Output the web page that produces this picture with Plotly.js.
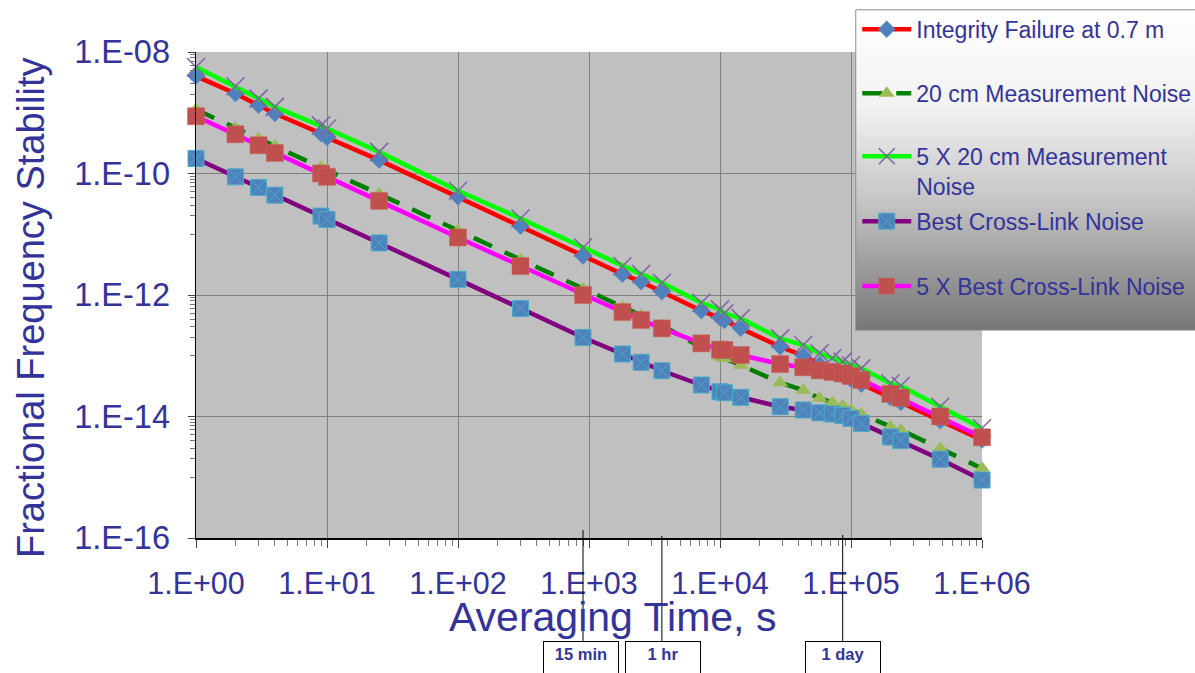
<!DOCTYPE html>
<html>
<head>
<meta charset="utf-8">
<script src="https://cdn.plot.ly/plotly-3.0.1.min.js"></script>
<style>
html,body{margin:0;padding:0;background:#fff;}
#chart{width:1195px;height:673px;}
</style>
</head>
<body>
<div id="chart"></div>
<script>
// ---- data ----
const tau = [1, 2, 3, 4, 9, 10, 25, 100, 300, 900, 1800, 2500, 3600, 7200, 10000, 10800, 14400,
             28800, 43200, 57600, 72000, 86400, 100000, 120000, 200000, 240000, 480000, 1000000];

const integrity = [4.0e-9, 2.07e-9, 1.33e-9, 9.7e-10, 4.55e-10, 3.9e-10, 1.66e-10, 4.12e-11, 1.36e-11,
                   4.37e-12, 2.2e-12, 1.65e-12, 1.13e-12, 5.5e-13, 4.2e-13, 3.8e-13, 2.82e-13,
                   1.41e-13, 1.0e-13, 7.2e-14, 5.7e-14, 4.7e-14, 4.1e-14, 3.4e-14, 2.05e-14, 1.7e-14,
                   8.5e-15, 4.1e-15];

const meas20 = [1.13e-9, 5.6e-10, 3.8e-10, 2.85e-10, 1.27e-10, 1.13e-10, 4.6e-11, 1.14e-11, 3.8e-12,
                1.26e-12, 6.3e-13, 4.6e-13, 3.2e-13, 1.35e-13, 9.5e-14, 9.0e-14, 7.0e-14,
                3.6e-14, 2.7e-14, 2.0e-14, 1.7e-14, 1.5e-14, 1.3e-14, 1.1e-14, 6.8e-15, 6.0e-15,
                3.0e-15, 1.4e-15];

const meas20x5 = [5.67e-9, 2.73e-9, 1.71e-9, 1.25e-9, 6.2e-10, 5.5e-10, 2.27e-10, 5.2e-11, 1.82e-11,
                  6.07e-12, 2.98e-12, 2.21e-12, 1.59e-12, 7.45e-13, 5.8e-13, 4.98e-13, 4.12e-13,
                  1.93e-13, 1.5e-13, 1.1e-13, 9.1e-14, 8.0e-14, 7.0e-14, 6.2e-14, 3.5e-14, 3.2e-14,
                  1.45e-14, 6.4e-15];

const bestLink = [1.77e-10, 8.8e-11, 5.9e-11, 4.4e-11, 1.99e-11, 1.75e-11, 7.2e-12, 1.81e-12, 6.0e-13,
                  2.0e-13, 1.07e-13, 7.8e-14, 5.66e-14, 3.3e-14, 2.56e-14, 2.46e-14, 2.07e-14,
                  1.45e-14, 1.28e-14, 1.15e-14, 1.1e-14, 1.04e-14, 9.3e-15, 7.7e-15, 4.6e-15, 4.0e-15,
                  1.98e-15, 9.0e-16];

const bestLinkx5 = [8.75e-10, 4.42e-10, 2.92e-10, 2.18e-10, 1.0e-10, 8.8e-11, 3.54e-11, 8.85e-12, 2.99e-12,
                    1.0e-12, 5.24e-13, 3.87e-13, 2.82e-13, 1.6e-13, 1.26e-13, 1.24e-13, 1.03e-13,
                    7.3e-14, 6.45e-14, 5.75e-14, 5.4e-14, 5.1e-14, 4.63e-14, 4.0e-14, 2.36e-14, 2.03e-14,
                    1.0e-14, 4.55e-15];

const seriesNames = ['Integrity Failure at 0.7 m', '20 cm Measurement Noise',
                     '5 X 20 cm Measurement<br>Noise', 'Best Cross-Link Noise', '5 X Best Cross-Link Noise'];

const xTickVals = [1, 10, 100, 1000, 10000, 100000, 1000000];
const xTickText = ['1.E+00', '1.E+01', '1.E+02', '1.E+03', '1.E+04', '1.E+05', '1.E+06'];
const yTickVals = [1e-8, 1e-10, 1e-12, 1e-14, 1e-16];
const yTickText = ['1.E-08', '1.E-10', '1.E-12', '1.E-14', '1.E-16'];

const xTitle = 'Averaging Time, s';
const yTitle = 'Fractional Frequency Stability';

const markTimes = [900, 3600, 86400];
const markLabels = ['15 min', '1 hr', '1 day'];

// ---- styling ----
const TXT = '#333399';
const FONT = 'Liberation Sans, Arial, sans-serif';

// minor ticks
const xMinor = [];
for (let e = 0; e < 6; e++) for (let k = 2; k <= 9; k++) xMinor.push(k * Math.pow(10, e));
const yMinor = [];
[-9, -11, -13, -15].forEach(e => { for (let k = 1; k <= 9; k++) yMinor.push(k * Math.pow(10, e)); });

const traces = [
  {x: tau, y: integrity, name: seriesNames[0], mode: 'lines+markers', legend: 'legend',
   line: {color: '#FF0000', width: 4.5},
   marker: {symbol: 'diamond', size: 13, color: '#4F81BD', line: {color: '#5b8ccc', width: 0.5}}},
  {x: tau, y: meas20, name: seriesNames[1], mode: 'lines+markers', legend: 'legend2',
   line: {color: '#008000', width: 4.5, dash: '20px,14px'},
   marker: {symbol: 'triangle-up', size: 14, color: '#9BBB59'}},
  {x: tau, y: meas20x5, name: seriesNames[2], mode: 'lines+markers', legend: 'legend3',
   line: {color: '#00FF00', width: 4.5},
   marker: {symbol: 'x-thin', size: 18, color: '#8064A2', line: {color: '#8064A2', width: 1.5}}},
  {x: tau, y: bestLink, name: seriesNames[3], mode: 'lines+markers', legend: 'legend4',
   line: {color: '#800080', width: 4.5},
   marker: {symbol: 'square-x', size: 16, color: '#4F81BD', line: {color: '#4BACC6', width: 1}}},
  {x: tau, y: bestLinkx5, name: seriesNames[4], mode: 'lines+markers', legend: 'legend5',
   line: {color: '#FF00FF', width: 4.5},
   marker: {symbol: 'square', size: 17, color: '#C0504D', line: {color: '#c96461', width: 0.5}}}
];
traces.forEach(t => { t.cliponaxis = false; });

// geometry helpers (pixel -> paper)
const L = 196, R = 981.7, T = 51.7, B = 538, W = 1195, H = 673;
const px = v => (v - L) / (R - L);
const py = v => (B - v) / (B - T);

const legendRows = [29, 93, 171, 221, 286];
const legendBase = {
  xref: 'paper', yref: 'paper', x: px(857), xanchor: 'left', yanchor: 'middle',
  bgcolor: 'rgba(0,0,0,0)', borderwidth: 0, itemwidth: 49,
  font: {family: FONT, size: 23, color: TXT}, valign: 'top'
};
const legendKeys = ['legend', 'legend2', 'legend3', 'legend4', 'legend5'];

const gradSvg = "<svg xmlns='http://www.w3.org/2000/svg' width='340' height='320' preserveAspectRatio='none'>" +
  "<defs><linearGradient id='g' x1='0' y1='0' x2='0' y2='1'>" +
  "<stop offset='0' stop-color='#ffffff'/><stop offset='0.3' stop-color='#f2f2f2'/>" +
  "<stop offset='0.6' stop-color='#c4c4c4'/><stop offset='1' stop-color='#767676'/>" +
  "</linearGradient></defs><rect width='340' height='320' fill='url(#g)'/></svg>";
const gradUri = 'data:image/svg+xml;charset=utf-8,' + encodeURIComponent(gradSvg);

const shapes = [
  // legend frame
  {type: 'rect', xref: 'paper', yref: 'paper', x0: px(855.5), x1: px(1200), y0: py(330), y1: py(9.5),
   line: {color: '#8c8c8c', width: 1}, fillcolor: 'rgba(0,0,0,0)', layer: 'above'}
];
const annotations = [
  {text: xTitle, xref: 'paper', yref: 'paper', x: px(612), y: py(617),
   xanchor: 'center', yanchor: 'middle', showarrow: false,
   font: {family: FONT, size: 41, color: TXT}},
  {text: yTitle, xref: 'paper', yref: 'paper', x: px(31), y: py(307), textangle: -90,
   xanchor: 'center', yanchor: 'middle', showarrow: false,
   font: {family: FONT, size: 38, color: TXT}}
];
const lineTop = [530, 536, 535];
const boxShift = [-2, 1, 0.7];
markTimes.forEach((t, i) => {
  shapes.push({type: 'line', xref: 'x', yref: 'paper', x0: t, x1: t, y0: py(lineTop[i]), y1: py(641),
               line: {color: '#000', width: 1}, layer: 'above'});
  annotations.push({text: '<b>' + markLabels[i] + '</b>', xref: 'x', yref: 'paper',
                    x: Math.log10(t), xshift: boxShift[i], y: py(641), xanchor: 'center', yanchor: 'top',
                    showarrow: false, width: 68, height: 44, valign: 'top', align: 'center',
                    bordercolor: '#000', borderwidth: 1, borderpad: 3, bgcolor: '#ffffff',
                    font: {family: FONT, size: 16.5, color: TXT}});
});

const layout = {
  width: W, height: H,
  margin: {l: L, r: W - R, t: T, b: H - B, pad: 0, autoexpand: false},
  paper_bgcolor: '#ffffff',
  plot_bgcolor: '#C0C0C0',
  font: {family: FONT, color: TXT},
  xaxis: {
    type: 'log', range: [0, 6], tickmode: 'array', tickvals: xTickVals, ticktext: xTickText,
    tickfont: {family: FONT, size: 30.5, color: TXT}, ticks: 'outside', ticklen: 8, tickcolor: '#444',
    ticklabelstandoff: 10, automargin: false,
    showline: true, linecolor: '#000', linewidth: 1.5, showgrid: true, gridcolor: '#808080', gridwidth: 1,
    zeroline: false,
    minor: {tickmode: 'array', tickvals: xMinor, ticks: 'outside', ticklen: 6, tickcolor: '#777', showgrid: false}
  },
  yaxis: {
    type: 'log', range: [-16, -8], tickmode: 'array', tickvals: yTickVals, ticktext: yTickText,
    tickfont: {family: FONT, size: 32.5, color: TXT}, ticks: 'outside', ticklen: 7, tickcolor: '#444',
    ticklabelstandoff: 11, automargin: false,
    showline: true, linecolor: '#000', linewidth: 1.5, showgrid: true, gridcolor: '#808080', gridwidth: 1,
    zeroline: false,
    minor: {tickmode: 'array', tickvals: yMinor, ticks: 'outside', ticklen: 5, tickcolor: '#777', showgrid: false}
  },
  images: [{source: gradUri, xref: 'paper', yref: 'paper', x: px(855.5), y: py(9.5),
            sizex: px(1200) - px(855.5), sizey: py(9.5) - py(330), xanchor: 'left', yanchor: 'top',
            sizing: 'stretch', layer: 'above'}],
  shapes: shapes,
  annotations: annotations,
  showlegend: true
};
legendKeys.forEach((k, i) => {
  layout[k] = Object.assign({}, legendBase, {y: py(legendRows[i])});
});

Plotly.newPlot('chart', traces, layout, {staticPlot: true});
</script>
</body>
</html>
